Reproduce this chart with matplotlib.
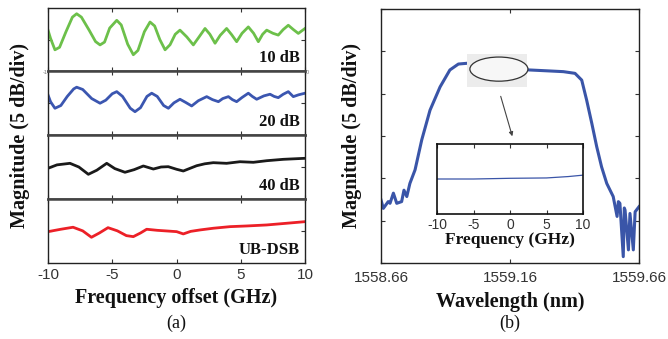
import matplotlib
matplotlib.use('Agg')
import matplotlib.pyplot as plt
from matplotlib.patches import Ellipse, Rectangle

# ---------------- data ----------------
freq_10dB = [-10, -9.8, -9.46, -9.1, -8.6, -8.1, -7.77, -7.4, -6.8, -6.3, -5.95, -5.6, -5.2,
             -4.65, -4.3, -3.8, -3.36, -3.0, -2.5, -2.06, -1.7, -1.3, -0.89, -0.5, -0.1,
             0.27, 0.8, 1.31, 1.7, 2.22, 2.6, 3.0, 3.4, 3.9, 4.3, 4.68, 5.1, 5.59, 6.0,
             6.37, 6.7, 7.02, 7.5, 7.92, 8.3, 8.70, 9.1, 9.48, 10]
mag_10dB = [1.80, 0.2, -1.98, -1.5, 1.5, 4.3, 4.95, 4.3, 1.8, -0.4, -1.04, -0.5, 2.2,
            3.69, 2.8, -0.9, -2.93, -2.1, 1.5, 3.36, 2.6, 0.0, -1.98, -1.0, 1.0,
            1.80, 0.5, -1.04, 0.3, 2.12, 1.0, -0.72, 0.8, 2.12, 0.9, -0.42, 1.2, 2.42, 1.2,
            -0.42, 1.0, 1.80, 1.2, 0.85, 1.9, 2.74, 1.9, 1.17, 2.12]

freq_20dB = [-10, -9.8, -9.46, -9.0, -8.5, -8.0, -7.77, -7.3, -6.6, -5.95, -5.5, -5.0,
             -4.65, -4.2, -3.6, -3.23, -2.8, -2.3, -1.93, -1.5, -1.0, -0.63, -0.2, 0.27,
             0.7, 1.18, 1.7, 2.35, 2.8, 3.26, 3.6, 4.04, 4.35, 4.68, 5.1, 5.59, 5.9, 6.24,
             6.8, 7.28, 7.6, 7.92, 8.3, 8.70, 9.09, 9.5, 10]
mag_20dB = [1.48, 0.2, -1.01, -0.5, 1.2, 2.6, 2.92, 2.5, 0.8, -0.07, 0.5, 1.7,
            2.09, 1.2, -1.0, -1.65, -0.9, 1.2, 1.80, 1.2, -0.5, -1.01, 0.0, 0.67,
            0.1, -0.58, 0.4, 1.16, 0.6, 0.22, 0.8, 1.16, 0.6, 0.22, 1.0, 1.80, 1.2, 0.67,
            1.3, 1.61, 1.2, 0.97, 1.6, 2.09, 1.16, 1.5, 1.80]

freq_40dB = [-10, -9.3, -8.29, -7.6, -6.86, -6.2, -5.43, -4.8, -4.01, -3.3, -2.58, -1.80,
             -1.2, -0.64, 0.01, 0.53, 1.0, 1.57, 2.2, 2.86, 3.90, 4.94, 5.98, 7.02, 8.31, 10]
mag_40dB = [-0.24, 0.4, 0.69, 0.0, -1.37, -0.6, 0.69, -0.3, -0.99, -0.5, 0.19, -0.38,
            0.0, 0.06, -0.43, -0.75, -0.3, 0.24, 0.6, 0.81, 0.69, 0.99, 0.88, 1.18, 1.44, 1.63]

freq_ubdsb = [-10, -9.0, -8.05, -7.3, -6.62, -6.0, -5.33, -4.6, -3.9, -3.36, -2.8, -2.32,
              -1.5, -0.77, 0.01, 0.53, 1.1, 1.83, 2.86, 4.16, 5.46, 7.02, 8.57, 10]
mag_ubdsb = [-0.15, 0.3, 0.68, 0.0, -1.21, -0.4, 0.60, 0.0, -0.9, -1.09, -0.4, 0.30,
             0.1, -0.02, -0.15, -0.58, -0.1, 0.17, 0.49, 0.79, 0.92, 1.11, 1.43, 1.73]

trace_labels = ['10 dB', '20 dB', '40 dB', 'UB-DSB']
trace_colors = ['#6cc04a', '#3b56b0', '#1a1a1a', '#ec2027']

wavelength = [1558.660, 1558.669, 1558.688, 1558.695, 1558.708, 1558.721, 1558.740,
              1558.749, 1558.760, 1558.772, 1558.792, 1558.818, 1558.850, 1558.889,
              1558.927, 1558.960, 1558.998, 1559.235, 1559.302, 1559.367, 1559.412,
              1559.438, 1559.457, 1559.477, 1559.496, 1559.515, 1559.535, 1559.560,
              1559.575, 1559.580, 1559.586, 1559.599, 1559.603, 1559.606, 1559.619,
              1559.625, 1559.638, 1559.645, 1559.660]
spectrum = [1.49, 1.29, 1.45, 1.41, 1.65, 1.41, 1.45, 1.72, 1.57, 1.88, 2.20, 2.91, 3.61,
            4.16, 4.56, 4.70, 4.72, 4.56, 4.54, 4.52, 4.48, 4.32, 3.85, 3.30, 2.75, 2.27,
            1.88, 1.57, 1.10, 1.45, 1.41, 0.15, 1.30, 1.25, 0.31, 1.17, 0.31, 1.21, 1.33]

inset_freq = [-10, -5, 0, 5, 8, 10]
inset_mag = [0.0, 0.0, 0.02, 0.03, 0.07, 0.11]

xticks_a = [-10, -5, 0, 5, 10]
xticks_b = [1558.66, 1559.16, 1559.66]
xticklabels_b = ['1558.66', '1559.16', '1559.66']

# ---------------- layout ----------------
W, H = 668, 339
fig = plt.figure(figsize=(W / 100, H / 100), dpi=100)

def fx(px):
    return px / W

def fy(py):
    return 1 - py / H

serif = 'Liberation Serif'
sans = 'Liberation Sans'
tick_color = '#333333'

# ---------------- panel (a) ----------------
bounds = [(8.3, 70.7), (70.7, 135.0), (135.0, 199.0), (199.0, 262.7)]
series = [(freq_10dB, mag_10dB), (freq_20dB, mag_20dB), (freq_40dB, mag_40dB),
          (freq_ubdsb, mag_ubdsb)]
for i, ((top, bot), (xs, ys)) in enumerate(zip(bounds, series)):
    ax = fig.add_axes([fx(48), fy(bot), fx(305) - fx(48), fy(top) - fy(bot)])
    ax.plot(xs, ys, color=trace_colors[i], lw=2.0, solid_joinstyle='round')
    ax.set_xlim(-10, 10)
    ax.set_ylim(-6, 6)
    ax.set_xticks(xticks_a)
    ax.set_yticks([0])
    ax.tick_params(direction='in', length=3, width=0.8, top=True, right=True,
                   color='#333333', labelleft=False)
    if i < 3:
        ax.tick_params(labelbottom=False)
    else:
        ax.set_xticklabels([str(t) for t in xticks_a], fontfamily=sans, fontsize=11,
                           color=tick_color)
        ax.tick_params(axis='x', pad=4)
    for name, sp in ax.spines.items():
        outer = (name in ('left', 'right')) or (i == 0 and name == 'top') or \
                (i == 3 and name == 'bottom')
        sp.set_linewidth(1.0 if outer else 1.8)
        sp.set_color('#222222' if outer else '#444444')
    ax.text(0.98, 0.14, trace_labels[i], transform=ax.transAxes, ha='right', va='baseline',
            fontfamily=serif, fontweight='bold', fontsize=12, color='#111111')

# faint leftover tick labels between the first two panels
fig.text(fx(45), fy(73), '-1', fontsize=4, color='#777777', ha='center', va='center',
         fontfamily=sans)
fig.text(fx(307), fy(72), '0', fontsize=4, color='#777777', ha='center', va='center',
         fontfamily=sans)

fig.text(fx(176), fy(298), 'Frequency offset (GHz)', ha='center', va='center',
         fontfamily=serif, fontweight='bold', fontsize=14.5, color='#111111')
fig.text(fx(176), fy(323), '(a)', ha='center', va='center', fontfamily=serif,
         fontsize=13, color='#111111')
fig.text(fx(20), fy(135.5), 'Magnitude (5 dB/div)', ha='center', va='center',
         rotation=90, fontfamily=serif, fontweight='bold', fontsize=14.5, color='#111111')

# ---------------- panel (b) ----------------
axb = fig.add_axes([fx(381), fy(263), fx(639) - fx(381), fy(9) - fy(263)])
axb.plot(wavelength, spectrum, color='#3a55a8', lw=2.2, solid_joinstyle='round', zorder=2)
axb.set_xlim(1558.66, 1559.66)
axb.set_ylim(0, 6)
axb.set_xticks(xticks_b)
axb.set_xticklabels(xticklabels_b, fontfamily=sans, fontsize=11, color=tick_color)
axb.set_yticks(range(7))
axb.tick_params(direction='in', length=3, width=0.8, top=True, right=True,
                labelleft=False, color='#333333')
axb.tick_params(axis='x', pad=6)
for sp in axb.spines.values():
    sp.set_linewidth(1.0)
    sp.set_color('#222222')

# highlighted region (grey box + ellipse)
axb.add_patch(Rectangle((1558.995, 4.16), 0.23, 0.78, facecolor='#ececec',
                        edgecolor='none', zorder=3))
axb.add_patch(Ellipse((1559.117, 4.58), 0.225, 0.57, facecolor='#f7f7f7',
                      edgecolor='#333333', lw=0.9, zorder=4))
axb.annotate('', xy=(1559.172, 2.93), xytext=(1559.121, 4.0),
             arrowprops=dict(arrowstyle='-|>', color='#444444', lw=0.8,
                             mutation_scale=6), zorder=5)

fig.text(fx(510), fy(302), 'Wavelength (nm)', ha='center', va='center',
         fontfamily=serif, fontweight='bold', fontsize=14.5, color='#111111')
fig.text(fx(510), fy(323), '(b)', ha='center', va='center', fontfamily=serif,
         fontsize=13, color='#111111')
fig.text(fx(352), fy(135.5), 'Magnitude (5 dB/div)', ha='center', va='center',
         rotation=90, fontfamily=serif, fontweight='bold', fontsize=14.5, color='#111111')

# inset
axi = fig.add_axes([fx(437), fy(214), fx(583) - fx(437), fy(144) - fy(214)])
axi.plot(inset_freq, inset_mag, color='#3a55a8', lw=0.9)
axi.set_xlim(-10, 10)
axi.set_ylim(-1, 1)
axi.set_xticks(xticks_a)
axi.set_xticklabels([str(t) for t in xticks_a], fontfamily=sans, fontsize=10,
                    color=tick_color)
axi.set_yticks([])
axi.tick_params(direction='in', length=3, width=0.8, top=True, color='#333333', pad=3)
for sp in axi.spines.values():
    sp.set_linewidth(1.2)
    sp.set_color('#111111')
fig.text(fx(510), fy(240), 'Frequency (GHz)', ha='center', va='center',
         fontfamily=serif, fontweight='bold', fontsize=12.5, color='#111111')

fig.savefig('out.png', dpi=100)
